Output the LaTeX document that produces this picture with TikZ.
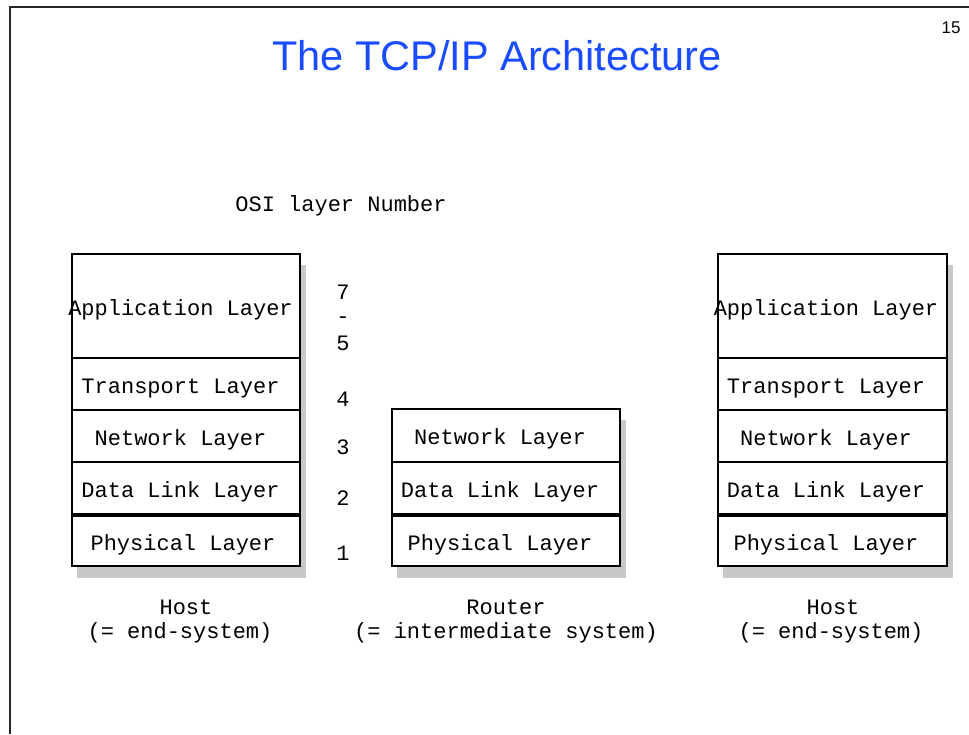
\documentclass[tikz,border=0pt]{standalone}
\usepackage{fontspec}
\setmainfont{Liberation Sans}
\newfontfamily\monofont{Liberation Mono}
\definecolor{titleblue}{RGB}{25,75,255}
\definecolor{shadowgray}{RGB}{200,200,200}
\newcommand{\lyrtxt}[2]{\hspace*{#1}\raisebox{-9pt}[0pt][0pt]{#2}}
\begin{document}
\begin{tikzpicture}[x=1pt,y=-1pt,
  layerbox/.style={draw=black, line width=1.6pt, fill=white, rectangle, inner sep=0pt,
     minimum width=228pt, font=\monofont\fontsize{22}{24}\selectfont, anchor=center},
  mono/.style={font=\monofont\fontsize{22}{24}\selectfont, inner sep=0pt},
  num/.style={font=\monofont\fontsize{22}{24}\selectfont, inner sep=0pt}]
\useasboundingbox (0,0) rectangle (969,734);
\fill[white] (0,0) rectangle (969,734);
% frame
\draw[line width=2pt, black!85] (10,734) -- (10,7) -- (969,7);
% title
\node[font=\fontsize{41.5}{46}\selectfont, text=titleblue, inner sep=0pt] (title) at (497,56) {The TCP/IP Architecture};
\node[font=\fontsize{17}{18}\selectfont, inner sep=0pt] (pg) at (951,28) {15};
\node[mono] (osi) at (341,206) {OSI layer Number};
% shadows
\fill[shadowgray] (77,265) rectangle (306,578);
\fill[shadowgray] (397,420) rectangle (626,578);
\fill[shadowgray] (723,265) rectangle (953,578);
% left host
\node[layerbox, minimum height=104pt] (lA) at (186,306) {\lyrtxt{-11pt}{Application Layer}};
\node[layerbox, minimum height=52pt] (lT) at (186,384) {\lyrtxt{-11pt}{Transport Layer}};
\node[layerbox, minimum height=52pt] (lN) at (186,436) {\lyrtxt{-11pt}{Network Layer}};
\node[layerbox, minimum height=52pt] (lD) at (186,488) {\lyrtxt{-11pt}{Data Link Layer}};
\node[layerbox, minimum height=50pt] (lP) at (186,541) {\lyrtxt{-6pt}{Physical Layer}};
% router
\node[layerbox, minimum height=53pt] (rN) at (506,435.5) {\lyrtxt{-12pt}{Network Layer}};
\node[layerbox, minimum height=52pt] (rD) at (506,488) {\lyrtxt{-12pt}{Data Link Layer}};
\node[layerbox, minimum height=50pt] (rP) at (506,541) {\lyrtxt{-12pt}{Physical Layer}};
% right host
\node[layerbox, minimum height=104pt, minimum width=229pt] (hA) at (832.5,306) {\lyrtxt{-13pt}{Application Layer}};
\node[layerbox, minimum height=52pt, minimum width=229pt] (hT) at (832.5,384) {\lyrtxt{-13pt}{Transport Layer}};
\node[layerbox, minimum height=52pt, minimum width=229pt] (hN) at (832.5,436) {\lyrtxt{-13pt}{Network Layer}};
\node[layerbox, minimum height=52pt, minimum width=229pt] (hD) at (832.5,488) {\lyrtxt{-13pt}{Data Link Layer}};
\node[layerbox, minimum height=50pt, minimum width=229pt] (hP) at (832.5,541) {\lyrtxt{-13pt}{Physical Layer}};
% OSI numbers
\node[num] (n7) at (343,292) {7};
\node[num] (n75) at (343,320) {-};
\node[num] (n5) at (343,343) {5};
\node[num] (n4) at (343,399) {4};
\node[num] (n3) at (343,447) {3};
\node[num] (n2) at (343,498) {2};
\node[num] (n1) at (343,553) {1};
% captions
\node[mono] (c1a) at (186,607) {Host};
\node[mono] (c1b) at (180,633) {(= end-system)};
\node[mono] (c2a) at (506,607) {Router};
\node[mono] (c2b) at (506,633) {(= intermediate system)};
\node[mono] (c3a) at (833,607) {Host};
\node[mono] (c3b) at (831,633) {(= end-system)};
\end{tikzpicture}
\end{document}
